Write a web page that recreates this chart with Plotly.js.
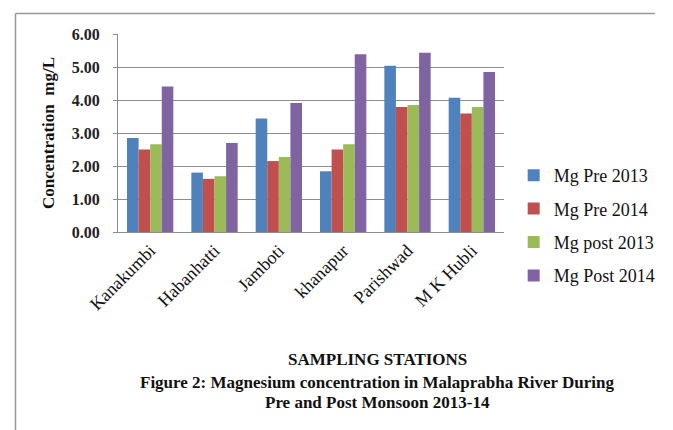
<!DOCTYPE html>
<html><head><meta charset="utf-8">
<script src="https://cdn.plot.ly/plotly-3.0.1.min.js"></script>
<style>body{margin:0;background:#fff}#chart{width:673px;height:430px}</style>
</head><body><div id="chart"></div>
<script>
const stations = ["Kanakumbi", "Habanhatti", "Jamboti", "khanapur", "Parishwad", "M K Hubli"];
const seriesNames = ["Mg Pre 2013", "Mg Pre 2014", "Mg post 2013", "Mg Post 2014"];
const mgPre2013  = [2.85, 1.80, 3.44, 1.84, 5.04, 4.07];
const mgPre2014  = [2.50, 1.61, 2.15, 2.50, 3.79, 3.59];
const mgPost2013 = [2.66, 1.69, 2.27, 2.66, 3.85, 3.79];
const mgPost2014 = [4.41, 2.70, 3.91, 5.39, 5.43, 4.85];
const yTicks = [0, 1, 2, 3, 4, 5, 6];
const colors = ["#4F81BD", "#C0504D", "#9BBB59", "#8064A2"];
const allSeries = [mgPre2013, mgPre2014, mgPost2013, mgPost2014];

const W = 673, H = 430;
const M = {l: 118, r: 156, t: 34, b: 198};
const pw = W - M.l - M.r, ph = H - M.t - M.b;
const px = x => (x - M.l) / pw;
const py = y => 1 - (y - M.t) / ph;

const traces = allSeries.map((vals, i) => ({
  type: "bar", x: stations, y: vals, name: seriesNames[i],
  legendgroup: "g" + i,
  marker: {color: colors[i]}
}));

const serif = "Liberation Serif";
const layout = {
  width: W, height: H, margin: M,
  paper_bgcolor: "#fff", plot_bgcolor: "#fff",
  barmode: "group", bargap: 0.28, bargroupgap: 0,
  showlegend: true,
  legend: {x: px(527), xanchor: "left", y: py(157), yanchor: "top",
    traceorder: "grouped", tracegroupgap: 7,
    font: {family: serif, size: 18, color: "#111"}, bgcolor: "rgba(0,0,0,0)"},
  xaxis: {type: "category", tickangle: -45, showline: true, linecolor: "#8c8c8c", linewidth: 1,
    ticks: "", tickfont: {family: serif, size: 18, color: "#111"}, showgrid: false},
  yaxis: {range: [0, 6], tickvals: yTicks, tickformat: ".2f", showgrid: true, gridcolor: "#8c8c8c", gridwidth: 1,
    showline: true, linecolor: "#8c8c8c", linewidth: 1, ticks: "outside", ticklen: 4, tickcolor: "#8c8c8c",
    ticklabelstandoff: 10, zeroline: false,
    tickfont: {family: serif, size: 16, color: "#222", weight: "bold"},
    title: {text: "Concentration  mg/L", standoff: 12, font: {family: serif, size: 17, color: "#111", weight: "bold"}}},
  annotations: [
    {text: "SAMPLING STATIONS", xref: "paper", yref: "paper", x: px(386), y: py(359), xanchor: "center", yanchor: "middle",
     showarrow: false, font: {family: serif, size: 17, color: "#111", weight: "bold"}},
    {text: "Figure 2: Magnesium concentration in Malaprabha River During", xref: "paper", yref: "paper", x: px(386), y: py(382),
     xanchor: "center", yanchor: "middle", showarrow: false, font: {family: serif, size: 17, color: "#111", weight: "bold"}},
    {text: "Pre and Post Monsoon 2013-14", xref: "paper", yref: "paper", x: px(386), y: py(402),
     xanchor: "center", yanchor: "middle", showarrow: false, font: {family: serif, size: 17, color: "#111", weight: "bold"}}
  ],
  shapes: [
    {type: "line", xref: "paper", yref: "paper", x0: px(12), x1: px(673), y0: py(13.5), y1: py(13.5), line: {color: "#999", width: 1.5}},
    {type: "line", xref: "paper", yref: "paper", x0: px(12), x1: px(12), y0: py(13.5), y1: py(430), line: {color: "#999", width: 1.5}}
  ]
};
Plotly.newPlot("chart", traces, layout, {staticPlot: true, displayModeBar: false});
</script></body></html>
